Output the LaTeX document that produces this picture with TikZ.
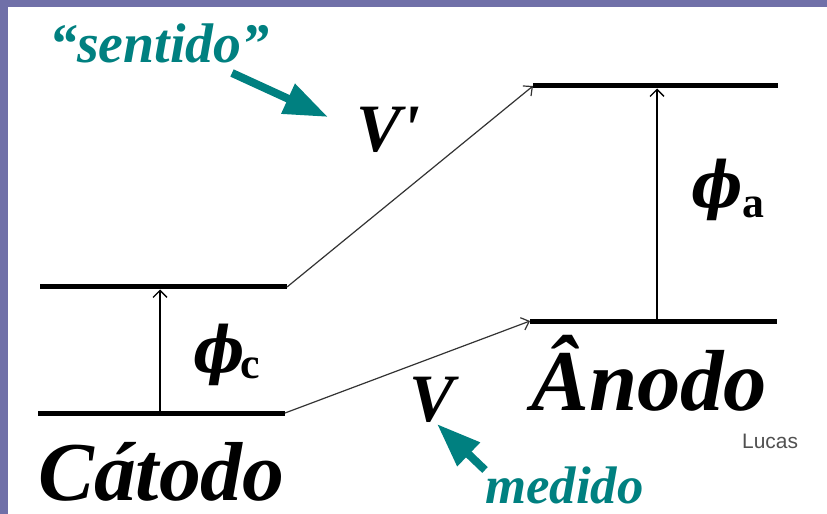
\documentclass[tikz,border=0pt]{standalone}
\usepackage{fontspec}
\setmainfont{Liberation Serif}
\newfontfamily\lucasfont{Liberation Sans}
\newfontfamily\phifont{DejaVu Serif}
\usetikzlibrary{arrows.meta}
\definecolor{framebg}{RGB}{112,112,168}
\definecolor{tealc}{RGB}{0,128,128}
\definecolor{lucasgray}{RGB}{80,80,80}
\tikzset{
  level/.style={line width=5bp, line cap=butt},
  workarrow/.style={line width=1.3bp, -{Straight Barb[length=7bp,width=14bp]}},
  diag/.style={line width=1.2bp, black!80, -{Straight Barb[length=7bp,width=13bp]}},
  pointer/.style={tealc, line width=8bp, -{Triangle[length=44bp,width=31bp]}},
  tealword/.style={inner sep=0pt, anchor=base west, text=tealc, font=\fontsize{56}{56}\selectfont\bfseries\itshape},
  vlabel/.style={inner sep=0pt, font=\fontsize{68}{68}\selectfont\bfseries\itshape},
  philabel/.style={inner sep=0pt, xscale=0.85, font=\fontsize{64}{64}\selectfont\phifont\bfseries\itshape},
  subl/.style={inner sep=0pt, anchor=base west, font=\fontsize{44}{44}\selectfont\bfseries}
}
\begin{document}
\begin{tikzpicture}[x=1bp,y=-1bp]
\useasboundingbox (0,0) rectangle (827,514);
\fill[framebg] (0,0) rectangle (827,514);
\fill[white] (8,7) rectangle (827,514);
% levels
\coordinate (cUl) at (40,287);  \coordinate (cUr) at (287,287);
\coordinate (cLl) at (38,413);  \coordinate (cLr) at (285,413);
\coordinate (aUl) at (533,86);  \coordinate (aUr) at (778,86);
\coordinate (aLl) at (530,321); \coordinate (aLr) at (777,321);
\draw[level] (cUl) -- (cUr);
\draw[level] (cLl) -- (cLr);
\draw[level] (aUl) -- (aUr);
\draw[level] (aLl) -- (aLr);
% work function arrows
\coordinate (cA0) at (160,410.5); \coordinate (cA1) at (160,289.5);
\coordinate (aA0) at (657,318.5); \coordinate (aA1) at (657,88.5);
\draw[workarrow] (cA0) -- (cA1);
\draw[workarrow] (aA0) -- (aA1);
% potential lines
\draw[diag] (cUr) -- (aUl);
\draw[diag] (cLr) -- (aLl);
% labels
\node[philabel, anchor=base] (phic) at (219,372) {ϕ};
\node[subl] (phicsub) at (240,378) {c};
\node[philabel, anchor=base] (phia) at (717,208) {ϕ};
\node[subl] (phiasub) at (742,218) {a};
\node[vlabel] (Vp) at (388,130) {V\textquotesingle};
\node[vlabel] (V) at (432,400) {V};
\node[inner sep=0pt, anchor=base west, font=\fontsize{84}{84}\selectfont\bfseries\itshape] (cat) at (38,500) {Cátodo};
\node[inner sep=0pt, anchor=base west, font=\fontsize{87}{87}\selectfont\bfseries\itshape] (ano) at (531,410) {Ânodo};
\node[tealword] (sent) at (49,63) {“sentido”};
\node[tealword, font=\fontsize{53}{53}\selectfont\bfseries\itshape] (med) at (485,503) {medido};
% teal pointers
\coordinate (p1s) at (232,73); \coordinate (p1e) at (328,117);
\coordinate (p2s) at (485,470); \coordinate (p2e) at (437,424);
\draw[pointer] (p1s) -- (p1e);
\draw[pointer] (p2s) -- (p2e);
\node[inner sep=0pt, anchor=base west, text=lucasgray, font=\lucasfont\fontsize{21}{21}\selectfont] (lucas) at (742,448) {Lucas};
\end{tikzpicture}
\end{document}
